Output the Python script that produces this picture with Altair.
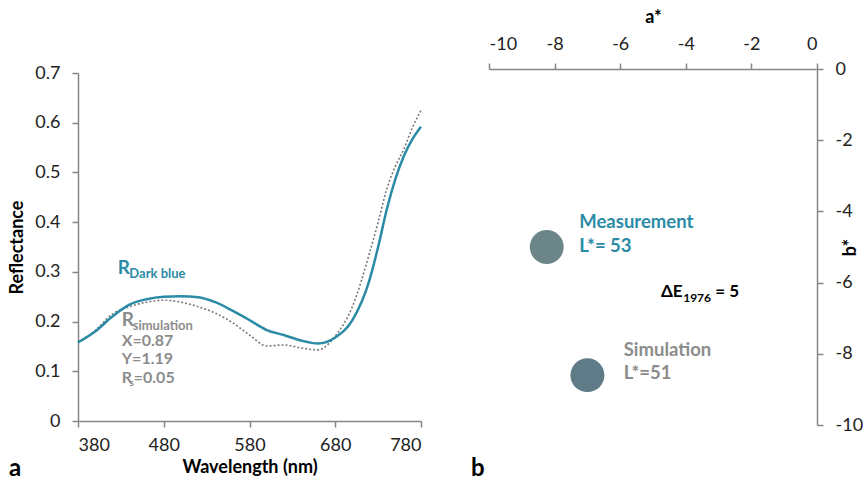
import altair as alt
import pandas as pd

# ---- data ----
wavelength = [380, 400, 420, 440, 460, 480, 500, 520, 540, 560, 580, 600, 620, 640, 660, 680, 700, 720, 730, 740, 750, 760, 770, 780]
r_measured = [0.158, 0.180, 0.210, 0.234, 0.245, 0.250, 0.251, 0.249, 0.239, 0.222, 0.203, 0.183, 0.173, 0.162, 0.156, 0.168, 0.203, 0.284, 0.350, 0.425, 0.486, 0.533, 0.567, 0.592]
r_simulated = [0.158, 0.182, 0.215, 0.230, 0.239, 0.243, 0.239, 0.230, 0.217, 0.198, 0.173, 0.151, 0.153, 0.147, 0.143, 0.171, 0.230, 0.338, 0.400, 0.466, 0.512, 0.547, 0.590, 0.625]

x_ticks_a = [380, 480, 580, 680, 780]
y_ticks_a = [0, 0.1, 0.2, 0.3, 0.4, 0.5, 0.6, 0.7]

points_name = ["Measurement", "Simulation"]
points_a = [-8.24, -7.0]
points_b = [-5.0, -8.6]
points_color = ["#6b8588", "#5f7b87"]

ab_ticks = [-10, -8, -6, -4, -2, 0]

TEAL = "#2b8ba6"
GRAY = "#8c8c8c"
AXIS = "#868686"
FONT = "Lato"

W1, H1 = 343, 352
W2, H2 = 328, 356

# ---- panel a ----
df_a = pd.DataFrame({
    "wl": wavelength * 2,
    "R": r_measured + r_simulated,
    "series": ["Measured"] * len(wavelength) + ["Simulation"] * len(wavelength),
})

x_a = alt.X("wl:Q", title="Wavelength (nm)",
            scale=alt.Scale(domain=[380, 780], nice=False, zero=False),
            axis=alt.Axis(values=x_ticks_a, grid=False, titlePadding=4, labelPadding=9))
y_a = alt.Y("R:Q", title="Reflectance",
            scale=alt.Scale(domain=[0, 0.7], nice=False, range=[H1, 4]),
            axis=alt.Axis(values=y_ticks_a, format=".1~f", grid=False, titlePadding=8,
                          labelPadding=12))

line_meas = alt.Chart(df_a).transform_filter(alt.datum.series == "Measured").mark_line(
    color=TEAL, strokeWidth=2.5, interpolate="monotone"
).encode(x=x_a, y=y_a)
line_sim = alt.Chart(df_a).transform_filter(alt.datum.series == "Simulation").mark_line(
    color="#7a7a7a", strokeWidth=1.6, strokeDash=[2, 2], interpolate="monotone"
).encode(x=x_a, y=y_a)

ann_a = pd.DataFrame({
    "wl": [426.3, 439.9, 431.0, 443.8, 431.0, 431.0, 431.0, 440.0, 445.0],
    "R": [0.2957, 0.2883, 0.191, 0.183, 0.151, 0.114, 0.0758, 0.070, 0.0758],
    "text": ["R", "Dark blue", "R", "simulation", "X=0.87", "Y=1.19", "R", "s", "=0.05"],
    "color": [TEAL, TEAL, GRAY, GRAY, GRAY, GRAY, GRAY, GRAY, GRAY],
    "size": [19, 13, 19, 13, 16, 16, 16, 10, 16],
})
text_a = alt.Chart(ann_a).mark_text(
    align="left", baseline="alphabetic", font=FONT, fontWeight="bold"
).encode(
    x="wl:Q", y="R:Q", text="text:N",
    color=alt.Color("color:N", scale=None),
    size=alt.Size("size:Q", scale=None),
)

label_a = alt.Chart(pd.DataFrame({"t": ["a"]})).mark_text(
    align="left", baseline="alphabetic", font=FONT, fontWeight="bold", fontSize=24, color="black"
).encode(x=alt.value(-69), y=alt.value(H1 + 55), text="t:N")

panel_a = alt.layer(line_sim, line_meas, text_a, label_a).properties(width=W1, height=H1)

# ---- panel b ----
df_b = pd.DataFrame({"name": points_name, "a": points_a, "b": points_b, "c": points_color})

x_b = alt.X("a:Q", title="a*", scale=alt.Scale(domain=[-10, 0], nice=False),
            axis=alt.Axis(orient="top", values=ab_ticks, grid=False, titlePadding=9,
                          labelPadding=10, labelExpr="'' + datum.value"))
y_b = alt.Y("b:Q", title="b*", scale=alt.Scale(domain=[-10, 0], nice=False),
            axis=alt.Axis(orient="right", values=ab_ticks, grid=False, titlePadding=-3,
                          labelPadding=12, titleAngle=270, labelExpr="'' + datum.value"))

pts = alt.Chart(df_b).mark_circle(size=1150, opacity=1).encode(
    x=x_b, y=y_b, color=alt.Color("c:N", scale=None)
)

ann_b = pd.DataFrame({
    "a": [-7.247, -7.247, -5.893, -5.893, -4.756, -4.08, -3.1],
    "b": [-4.475, -5.13, -8.06, -8.716, -6.396, -6.536, -6.396],
    "text": ["Measurement", "L*= 53", "Simulation", "L*=51", "ΔE", "1976", "= 5"],
    "color": [TEAL, TEAL, GRAY, GRAY, "black", "black", "black"],
    "size": [18.5, 18.5, 18.5, 18.5, 17, 12, 17],
})
text_b = alt.Chart(ann_b).mark_text(
    align="left", baseline="alphabetic", font=FONT, fontWeight="bold"
).encode(
    x="a:Q", y="b:Q", text="text:N",
    color=alt.Color("color:N", scale=None),
    size=alt.Size("size:Q", scale=None),
)

label_b = alt.Chart(pd.DataFrame({"t": ["b"]})).mark_text(
    align="left", baseline="alphabetic", font=FONT, fontWeight="bold", fontSize=24, color="black"
).encode(x=alt.value(-18), y=alt.value(H2 + 51), text="t:N")

panel_b = alt.layer(pts, text_b, label_b).properties(width=W2, height=H2)

chart = alt.hconcat(panel_a, panel_b, spacing=68, bounds="flush").properties(
    padding={"left": 8, "right": 0, "top": 8, "bottom": 0}
).configure_view(
    stroke=None
).configure_axis(
    labelFont=FONT, titleFont=FONT, labelFontSize=18, titleFontSize=18,
    labelColor="#222222", titleColor="black", titleFontWeight="bold",
    domainColor=AXIS, tickColor=AXIS, domainWidth=1.5, tickWidth=1.5, tickSize=6,
)

chart.save("out.html", embed_options={"renderer": "svg", "actions": False})
